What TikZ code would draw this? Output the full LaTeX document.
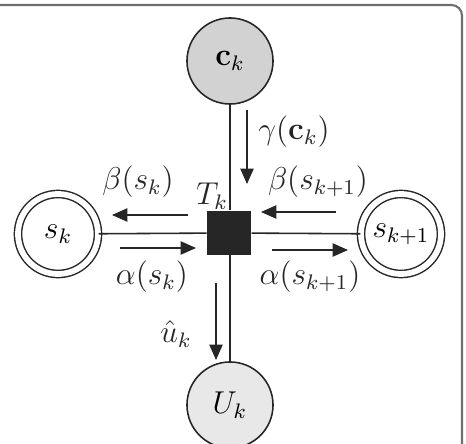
\documentclass[tikz,border=0pt]{standalone}
\usepackage{amsmath,amssymb}
\usetikzlibrary{arrows.meta}
\definecolor{darkfg}{HTML}{262626}
\definecolor{framegray}{HTML}{6E6E6E}
\definecolor{obsfill}{HTML}{D2D2D2}
\definecolor{utilfill}{HTML}{E8E8E8}

\begin{document}
\begin{tikzpicture}[x=0.38pt, y=-0.38pt,
  var/.style={circle, draw=darkfg, line width=0.6pt, minimum size=32.7pt, inner sep=0pt, font=\large},
  state/.style={circle, draw=darkfg, line width=0.55pt, double, double distance=2.2pt,
                minimum size=30.4pt, inner sep=0pt, font=\large},
  factor/.style={rectangle, fill=darkfg, minimum size=16.7pt, inner sep=0pt},
  edge/.style={darkfg, line width=0.6pt},
  msg/.style={-{Triangle[length=5.8pt, width=5pt]}, darkfg, line width=0.6pt},
  lbl/.style={font=\large, text=darkfg}]
  \useasboundingbox (0,0) rectangle (466,444);
  \draw[framegray, line width=0.8pt, rounded corners=4pt] (-10,5) rectangle (462,470);

  % nodes
  \node[var, fill=obsfill] (ck) at (230,61) {$\mathbf{c}_k$};
  \node[var, fill=utilfill] (Uk) at (230,405) {$U_k$};
  \node[state] (sk) at (58,234) {$s_k$};
  \node[state] (sk1) at (401,234) {$s_{k+1}$};
  \node[factor] (Tk) at (229,233) {};
  \node[lbl] (Tklbl) at (212,196) {$T_k$};

  % edges of the graph
  \draw[edge] (ck) -- (ck |- Tk.north);
  \draw[edge] (Uk) -- (Uk |- Tk.south);
  \draw[edge] (sk) -- (Tk);
  \draw[edge] (Tk) -- (sk1);

  % messages
  \coordinate (gamS) at (247,110);
  \coordinate (gamE) at (247,184);
  \coordinate (bkS) at (188,215);
  \coordinate (bkE) at (112,215);
  \coordinate (akS) at (120,248);
  \coordinate (akE) at (196,248);
  \coordinate (bk1S) at (336,212);
  \coordinate (bk1E) at (261,212);
  \coordinate (ak1S) at (272,250);
  \coordinate (ak1E) at (348,250);
  \coordinate (uS) at (216,283);
  \coordinate (uE) at (216,360);
  \draw[msg] (gamS) -- (gamE);
  \draw[msg] (bkS) -- (bkE);
  \draw[msg] (akS) -- (akE);
  \draw[msg] (bk1S) -- (bk1E);
  \draw[msg] (ak1S) -- (ak1E);
  \draw[msg] (uS) -- (uE);

  % message labels
  \node[lbl] (gamlbl) at (294,132) {$\gamma(\mathbf{c}_k)$};
  \node[lbl] (bklbl) at (138,182) {$\beta(s_k)$};
  \node[lbl] (aklbl) at (152,277) {$\alpha(s_k)$};
  \node[lbl] (bk1lbl) at (318,182) {$\beta(s_{k+1})$};
  \node[lbl] (ak1lbl) at (310,277) {$\alpha(s_{k+1})$};
  \node[lbl] (ulbl) at (176,334) {$\hat{u}_k$};
\end{tikzpicture}
\end{document}
